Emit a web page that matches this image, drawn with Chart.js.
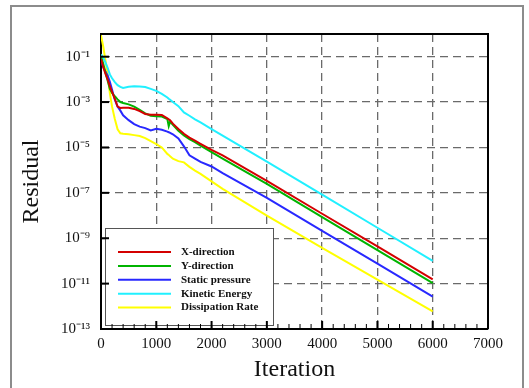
<!DOCTYPE html>
<html>
<head>
<meta charset="utf-8">
<script src="https://cdn.jsdelivr.net/npm/chart.js@4/dist/chart.umd.min.js"></script>
<style>
  html, body { margin: 0; padding: 0; background: #fff; overflow: hidden; }
  #wrap { position: relative; width: 529px; height: 388px; }
  #frame { position: absolute; left: 10px; top: 5px; width: 510px; height: 400px; border: 2px solid #8c8c8c; }
  canvas { position: absolute; left: 0; top: 0; }
</style>
</head>
<body>
<div id="wrap">
  <div id="frame"></div>
  <canvas id="myChart" width="529" height="388"></canvas>
</div>
<script>
// iteration numbers the residuals were read at
const iterations = [0, 40, 80, 120, 160, 200, 250, 300, 350, 400, 500, 600, 700, 800, 900, 1000,
  1100, 1200, 1225, 1250, 1300, 1400, 1500, 1600, 1700, 1800, 2000, 2200, 3000, 4000, 5000, 6000];

const xDirection = [7.9e-2, 3.5e-2, 1.8e-2, 1.0e-2, 5.0e-3, 2.8e-3, 1.4e-3, 6.3e-4, 5.5e-4, 5.6e-4, 5.6e-4, 5.0e-4, 4.0e-4, 3.0e-4, 2.75e-4, 2.75e-4,
  2.7e-4, 1.9e-4, 1.74e-4, 1.58e-4, 1.12e-4, 6.5e-5, 4.0e-5, 2.7e-5, 2.0e-5, 1.45e-5, 7.8e-6, 4.5e-6, 3.4e-7, 1.2e-8, 4.4e-10, 1.55e-11];
const yDirection = [1.0e-1, 5.0e-2, 2.0e-2, 8.9e-3, 3.8e-3, 2.5e-3, 1.8e-3, 1.32e-3, 1.0e-3, 9.1e-4, 7.9e-4, 6.3e-4, 4.5e-4, 3.2e-4, 2.5e-4, 2.4e-4,
  2.3e-4, 1.8e-4, 8.7e-5, 1.38e-4, 1.0e-4, 5.4e-5, 3.4e-5, 2.3e-5, 1.7e-5, 1.2e-5, 6.2e-6, 3.2e-6, 2.5e-7, 8.5e-9, 3.0e-10, 1.05e-11];
const staticPressure = [7.9e-2, 3.5e-2, 2.2e-2, 1.5e-2, 7.9e-3, 3.5e-3, 1.26e-3, 6.3e-4, 4.2e-4, 2.6e-4, 1.6e-4, 1.07e-4, 8.3e-5, 7.1e-5, 5.6e-5, 6.6e-5,
  6.0e-5, 5.0e-5, 4.7e-5, 4.4e-5, 3.8e-5, 2.5e-5, 1.12e-5, 4.5e-6, 3.2e-6, 2.3e-6, 1.45e-6, 7.4e-7, 6.0e-8, 2.1e-9, 7.6e-11, 2.7e-12];
const kineticEnergy = [1.26e-1, 8.9e-2, 5.6e-2, 3.2e-2, 1.66e-2, 1.12e-2, 7.6e-3, 5.6e-3, 4.7e-3, 4.2e-3, 4.7e-3, 5.0e-3, 4.9e-3, 4.6e-3, 3.8e-3, 3.1e-3,
  2.3e-3, 1.6e-3, 1.4e-3, 1.26e-3, 1.0e-3, 6.6e-4, 3.5e-4, 2.5e-4, 1.74e-4, 1.26e-4, 6.5e-5, 3.3e-5, 2.4e-6, 8.3e-8, 2.9e-9, 1.0e-10];
const dissipationRate = [8.9e-1, 2.8e-1, 7.1e-2, 1.6e-2, 2.5e-3, 6.3e-4, 1.8e-4, 6.3e-5, 4.2e-5, 4.0e-5, 3.8e-5, 3.5e-5, 3.2e-5, 2.6e-5, 1.9e-5, 1.4e-5,
  1.0e-5, 5.2e-6, 4.7e-6, 4.1e-6, 3.2e-6, 2.5e-6, 2.2e-6, 1.4e-6, 9.5e-7, 6.9e-7, 3.2e-7, 1.5e-7, 1.0e-8, 3.8e-10, 1.5e-11, 6.0e-13];

const seriesNames = ["X-direction", "Y-direction", "Static pressure", "Kinetic Energy", "Dissipation Rate"];
const seriesColors = ["#d40000", "#00b400", "#2828ff", "#20f0ff", "#ffff00"];

const yTickValues = [1e-1, 1e-3, 1e-5, 1e-7, 1e-9, 1e-11, 1e-13];
const yTickLabels = ["10⁻¹", "10⁻³", "10⁻⁵", "10⁻⁷", "10⁻⁹", "10⁻¹¹", "10⁻¹³"];

const serif = "'Liberation Serif', 'Times New Roman', serif";

function points(vals) {
  return iterations.map((it, i) => ({ x: it, y: vals[i] }));
}

// legend box inside the plot + inward tick marks + top/right frame
const framePlugin = {
  id: "framePlugin",
  afterDraw(chart) {
    const ctx = chart.ctx;
    const a = chart.chartArea;
    const xs = chart.scales.x, ys = chart.scales.y;
    ctx.save();

    // legend
    const bx = 105, by = 228, bw = 168, bh = 97;
    ctx.fillStyle = "#fff";
    ctx.fillRect(bx, by, bw, bh);
    ctx.strokeStyle = "#555";
    ctx.lineWidth = 1;
    ctx.strokeRect(bx + 0.5, by + 0.5, bw, bh);
    ctx.font = "bold 11px " + serif;
    ctx.textBaseline = "middle";
    chart.data.datasets.forEach((ds, i) => {
      const yy = 252 + i * 13.9;
      ctx.strokeStyle = ds.borderColor;
      ctx.lineWidth = 2;
      ctx.beginPath();
      ctx.moveTo(118, yy);
      ctx.lineTo(171, yy);
      ctx.stroke();
      ctx.fillStyle = "#111";
      ctx.fillText(ds.label, 181, yy);
    });

    // ticks pointing into the plot
    ctx.strokeStyle = "#000";
    ctx.lineWidth = 2;
    yTickValues.forEach(v => {
      const py = ys.getPixelForValue(v);
      ctx.beginPath();
      ctx.moveTo(a.left, py);
      ctx.lineTo(a.left + 8, py);
      ctx.stroke();
    });
    for (let v = 0; v <= 7000; v += 200) {
      const px = xs.getPixelForValue(v);
      const major = v % 1000 === 0;
      ctx.lineWidth = major ? 2 : 1;
      ctx.beginPath();
      ctx.moveTo(px, a.bottom);
      ctx.lineTo(px, a.bottom - (major ? 8 : 5));
      ctx.stroke();
    }

    // top and right edges
    ctx.lineWidth = 2;
    ctx.beginPath();
    ctx.moveTo(a.left, a.top);
    ctx.lineTo(a.right, a.top);
    ctx.lineTo(a.right, a.bottom);
    ctx.stroke();
    ctx.restore();
  }
};

const ctx = document.getElementById("myChart").getContext("2d");
const myChart = new Chart(ctx, {
  type: "line",
  data: {
    datasets: [xDirection, yDirection, staticPressure, kineticEnergy, dissipationRate].map((vals, i) => ({
      label: seriesNames[i],
      data: points(vals),
      borderColor: seriesColors[i],
      backgroundColor: seriesColors[i],
      borderWidth: 2,
      pointRadius: 0,
      tension: 0,
      fill: false,
    })),
  },
  options: {
    responsive: false,
    animation: false,
    devicePixelRatio: 1,
    layout: { padding: { left: 0, top: 34, right: 41, bottom: 0 } },
    plugins: { legend: { display: false }, tooltip: { enabled: false } },
    scales: {
      x: {
        type: "linear",
        min: 0,
        max: 7000,
        afterFit: (s) => { s.height = 59; },
        ticks: {
          stepSize: 1000,
          autoSkip: false,
          maxRotation: 0,
          padding: 6,
          color: "#111",
          font: { family: serif, size: 15 },
          callback: (value) => String(value),
        },
        grid: { color: "#6a6a6a", lineWidth: 1.3, drawTicks: false },
        border: { display: true, color: "#000", width: 2, dash: [8, 5] },
        title: {
          display: true,
          text: "Iteration",
          color: "#111",
          font: { family: serif, size: 24, lineHeight: 1 },
          padding: { top: 0, bottom: 6 },
        },
      },
      y: {
        type: "logarithmic",
        min: 1e-13,
        max: 1,
        afterFit: (s) => { s.width = 101; },
        afterBuildTicks: (s) => { s.ticks = yTickValues.map(v => ({ value: v })); },
        ticks: {
          autoSkip: false,
          padding: 11,
          color: "#111",
          font: { family: serif, size: 15 },
          callback: (value, index) => yTickLabels[index],
        },
        grid: { color: "#6a6a6a", lineWidth: 1.3, drawTicks: false },
        border: { display: true, color: "#000", width: 2, dash: [8, 5] },
        title: {
          display: true,
          text: "Residual",
          color: "#111",
          font: { family: serif, size: 24, lineHeight: 1 },
          padding: { top: 20, bottom: 0 },
        },
      },
    },
  },
  plugins: [framePlugin],
});
</script>
</body>
</html>
